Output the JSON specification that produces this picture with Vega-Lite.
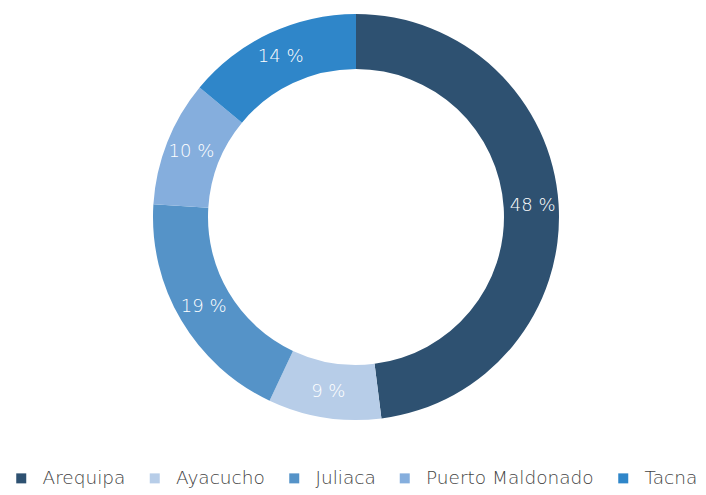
{
  "$schema": "https://vega.github.io/schema/vega-lite/v6.json",
  "width": 712,
  "height": 434,
  "padding": {"left": 0, "top": 0, "right": 0, "bottom": 61},
  "autosize": {"type": "none"},
  "background": "white",
  "data": {"values": [
    {"ciudad": "Arequipa", "valor": 48, "orden": 1, "etiqueta": "48 %"},
    {"ciudad": "Ayacucho", "valor": 9, "orden": 2, "etiqueta": "9 %"},
    {"ciudad": "Juliaca", "valor": 19, "orden": 3, "etiqueta": "19 %"},
    {"ciudad": "Puerto Maldonado", "valor": 10, "orden": 4, "etiqueta": "10 %"},
    {"ciudad": "Tacna", "valor": 14, "orden": 5, "etiqueta": "14 %"}
  ]},
  "encoding": {
    "theta": {"field": "valor", "type": "quantitative", "stack": true},
    "order": {"field": "orden", "type": "quantitative"}
  },
  "layer": [
    {
      "mark": {"type": "arc", "outerRadius": 203, "innerRadius": 148},
      "encoding": {
        "color": {
          "field": "ciudad", "type": "nominal",
          "scale": {
            "domain": ["Arequipa", "Ayacucho", "Juliaca", "Puerto Maldonado", "Tacna"],
            "range": ["#2e5171", "#b7cde8", "#5593c8", "#85aedd", "#2f86c9"]
          },
          "legend": {
            "orient": "none",
            "legendX": 12,
            "legendY": 469,
            "direction": "horizontal",
            "title": null,
            "symbolType": "square",
            "symbolSize": 100,
            "symbolStrokeWidth": 0,
            "labelFont": "DejaVu Sans",
            "labelFontWeight": 200,
            "labelFontSize": 18.5,
            "labelColor": "#444444",
            "labelOffset": 12,
            "columnPadding": 19.5,
            "labelLimit": 300
          }
        }
      }
    },
    {
      "mark": {"type": "text", "radius": 177, "font": "DejaVu Sans", "fontWeight": 200, "fontSize": 18, "color": "white", "align": "center", "baseline": "middle"},
      "encoding": {
        "text": {"field": "etiqueta", "type": "nominal"}
      }
    }
  ]
}
